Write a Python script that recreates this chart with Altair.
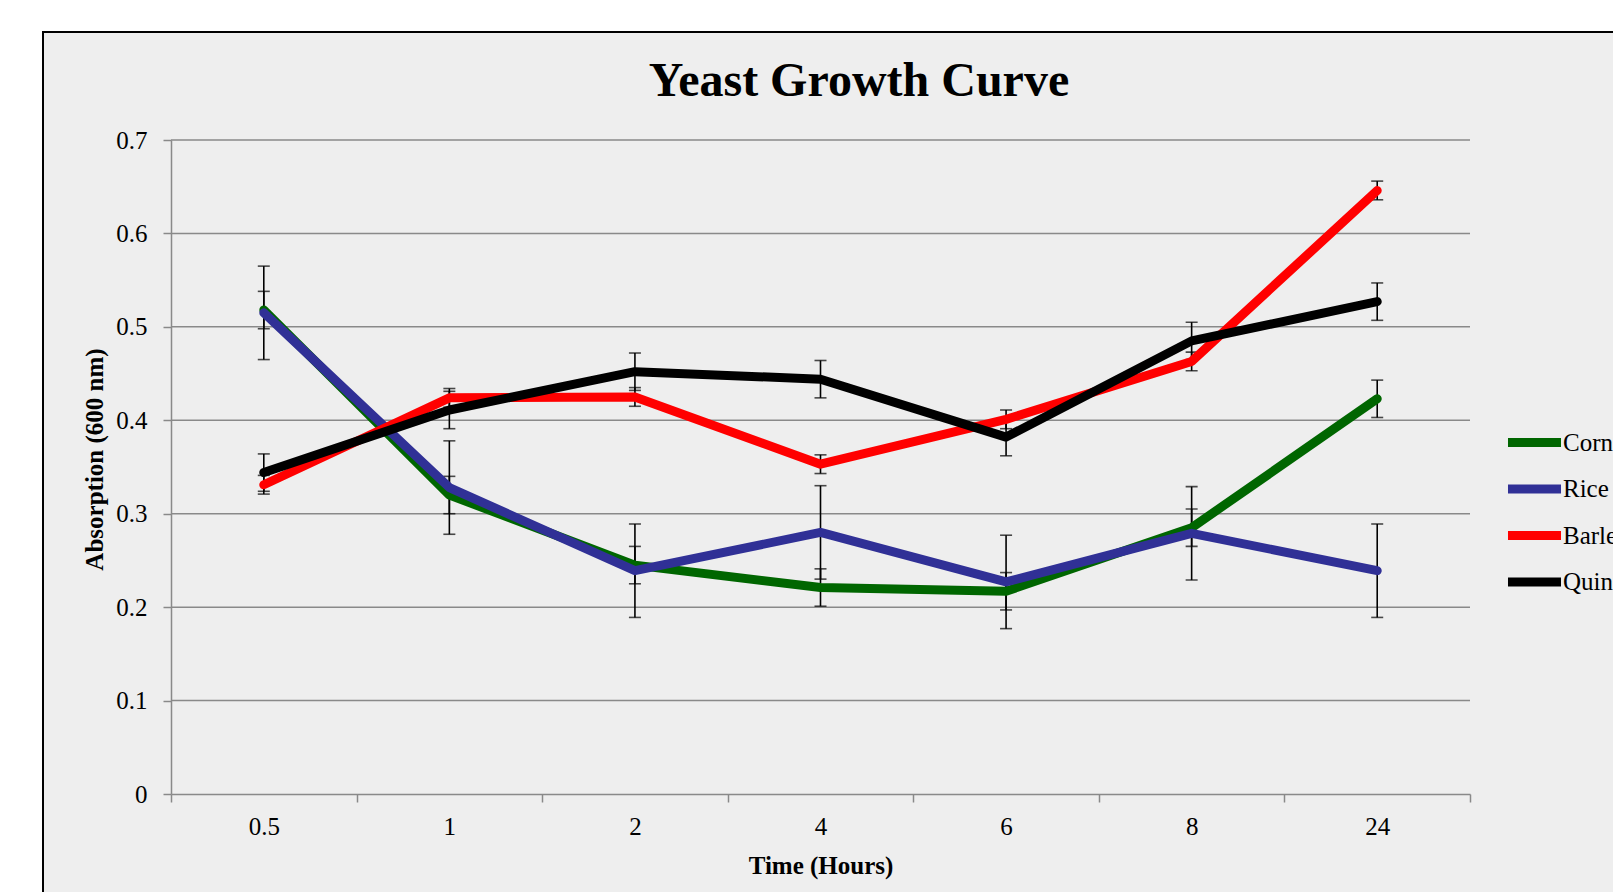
import altair as alt
import pandas as pd

# ---- data ----
times = ["0.5", "1", "2", "4", "6", "8", "24"]
series = ["Corn", "Rice", "Barley", "Quinoa"]
corn = [0.518, 0.320, 0.245, 0.221, 0.217, 0.285, 0.423]
rice = [0.515, 0.328, 0.239, 0.280, 0.227, 0.279, 0.239]
barley = [0.331, 0.424, 0.425, 0.353, 0.401, 0.463, 0.646]
quinoa = [0.344, 0.411, 0.452, 0.444, 0.382, 0.485, 0.527]
errors = [0.02, 0.05, 0.01, 0.02]
colors = ["#006600", "#303096", "#FF0000", "#000000"]
y_ticks = [0, 0.1, 0.2, 0.3, 0.4, 0.5, 0.6, 0.7]
grid_vals = [0.1, 0.2, 0.3, 0.4, 0.5, 0.6, 0.7]

rows = []
for name, vals, err in zip(series, [corn, rice, barley, quinoa], errors):
    for t, v in zip(times, vals):
        rows.append({"time": t, "series": name, "value": v,
                     "lo": round(v - err, 4), "hi": round(v + err, 4)})
df = pd.DataFrame(rows)
grid_df = pd.DataFrame({"g": grid_vals})

W, H = 1299, 654
FONT = "Liberation Serif"
GRAY = "#898989"

x_scale = alt.Scale(type="band", domain=times, paddingInner=0, paddingOuter=0)
y_scale = alt.Scale(domain=[0, 0.7], nice=False, zero=True)

x_axis = alt.Axis(
    title="Time (Hours)", tickBand="extent", grid=False, labelAngle=0,
    domainColor=GRAY, domainWidth=1.5, tickColor=GRAY, tickWidth=1.5, tickSize=8,
    labelFont=FONT, labelFontSize=25, labelColor="black", labelPadding=12,
    titleFont=FONT, titleFontSize=25, titleFontWeight="bold", titleColor="black",
    titleX=649.5, titleY=79, titleBaseline="alphabetic", zindex=1,
)
y_axis = alt.Axis(
    title="Absorption (600 nm)", values=y_ticks, format="~g", grid=False,
    domainColor=GRAY, domainWidth=1.5, tickColor=GRAY, tickWidth=1.5, tickSize=8,
    labelFont=FONT, labelFontSize=25, labelColor="black", labelPadding=16,
    titleFont=FONT, titleFontSize=25, titleFontWeight="bold", titleColor="black",
    titleX=-77, titleY=319, titleAngle=270, titleAlign="center",
    titleBaseline="middle", zindex=1,
)
legend = alt.Legend(
    orient="none", legendX=1344.5, legendY=280, title=None,
    symbolType="M-1.667,0H1.278", symbolSize=1296, symbolStrokeWidth=9,
    labelFont=FONT, labelFontSize=25, labelColor="black", labelOffset=2.5,
    rowPadding=5.5, padding=0,
)

X = alt.X("time:N", scale=x_scale, axis=x_axis, bandPosition=0.5)

panel = alt.Chart(pd.DataFrame({"a": [0]})).mark_rect(
    fill="#EEEEEE", stroke="black", strokeWidth=2
).encode(x=alt.value(-128), x2=alt.value(1500), y=alt.value(-108), y2=alt.value(800))

grid = alt.Chart(grid_df).mark_rule(color=GRAY, strokeWidth=1.5).encode(
    y=alt.Y("g:Q", scale=y_scale, axis=y_axis), x=alt.value(0), x2=alt.value(W)
)

base = alt.Chart(df)
err_rule = base.mark_rule(color="black", strokeWidth=1.6).encode(
    x=X, y=alt.Y("lo:Q", scale=y_scale, axis=y_axis), y2="hi:Q"
)
cap_lo = base.mark_tick(color="black", thickness=1.6, size=12, orient="horizontal").encode(
    x=X, y=alt.Y("lo:Q", scale=y_scale, axis=y_axis)
)
cap_hi = base.mark_tick(color="black", thickness=1.6, size=12, orient="horizontal").encode(
    x=X, y=alt.Y("hi:Q", scale=y_scale, axis=y_axis)
)
lines = base.mark_line(strokeWidth=9, strokeCap="round", strokeJoin="round").encode(
    x=X,
    y=alt.Y("value:Q", scale=y_scale, axis=y_axis),
    color=alt.Color("series:N", scale=alt.Scale(domain=series, range=colors), legend=legend),
)

chart = alt.layer(panel, grid, err_rule, cap_lo, cap_hi, lines).properties(
    width=W, height=H,
    title=alt.TitleParams("Yeast Growth Curve", font=FONT, fontSize=48, fontWeight="bold",
                          color="black", anchor="middle", dx=38.5, offset=-113,
                          baseline="alphabetic"),
    padding={"left": 163, "top": 132, "right": 143, "bottom": 98},
    autosize=alt.AutoSizeParams(type="none"),
    background="white",
).configure_view(stroke=None)

chart.save("out.html", embed_options={"renderer": "svg", "actions": False})
